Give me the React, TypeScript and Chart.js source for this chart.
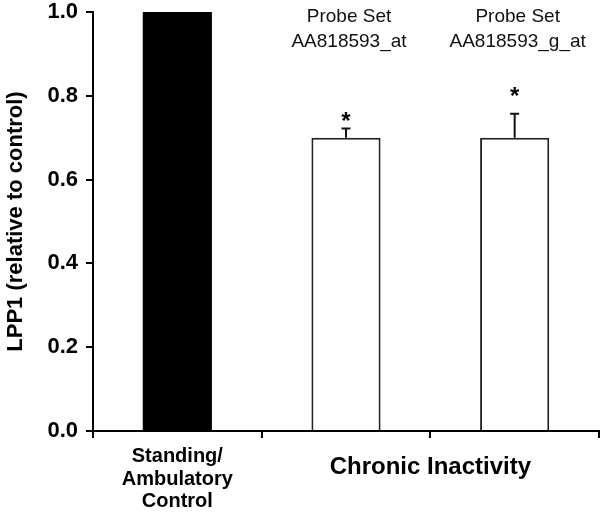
import { useEffect, useRef } from 'react';
import { Chart, registerables } from 'chart.js';

Chart.register(...registerables);

const categories = ['Standing/Ambulatory Control', 'AA818593_at', 'AA818593_g_at'];
const values = [1.0, 0.7, 0.7];
const errorsUp = [0, 0.022, 0.057];
const starValues: (number | null)[] = [null, 0.755, 0.815];
const barColors = ['#000000', '#ffffff', '#ffffff'];
const barBorders = [0, 2, 2];
const probeLabelLines: string[][] = [[], ['Probe Set', 'AA818593_at'], ['Probe Set', 'AA818593_g_at']];
const controlLabelLines = ['Standing/', 'Ambulatory', 'Control'];
const groupLabel = 'Chronic Inactivity';
const yTitle = 'LPP1 (relative to control)';
const yMin = 0;
const yMax = 1.0;
const yStep = 0.2;

const FONT = '"Liberation Sans", Arial, Helvetica, sans-serif';

const overlayPlugin = {
  id: 'overlay',
  afterDatasetsDraw(chart: any) {
    const ctx = chart.ctx as CanvasRenderingContext2D;
    const xs = chart.scales.x;
    const ys = chart.scales.y;
    const area = chart.chartArea;
    ctx.save();
    // error bars
    ctx.strokeStyle = '#111';
    ctx.lineWidth = 2;
    values.forEach((v, i) => {
      const e = errorsUp[i];
      if (!e) return;
      const x = xs.getPixelForValue(i);
      const y0 = ys.getPixelForValue(v);
      const y1 = ys.getPixelForValue(v + e);
      ctx.beginPath();
      ctx.moveTo(x, y0);
      ctx.lineTo(x, y1);
      ctx.moveTo(x - 4.5, y1);
      ctx.lineTo(x + 4.5, y1);
      ctx.stroke();
    });
    // stars
    ctx.fillStyle = '#000';
    ctx.font = `bold 24px ${FONT}`;
    ctx.textAlign = 'center';
    ctx.textBaseline = 'alphabetic';
    starValues.forEach((s, i) => {
      if (s == null) return;
      const x = xs.getPixelForValue(i);
      const y = ys.getPixelForValue(s);
      ctx.fillText('*', x, y + 14);
    });
    // probe labels
    ctx.font = `19px ${FONT}`;
    ctx.fillStyle = '#111';
    probeLabelLines.forEach((lines, i) => {
      const x = xs.getPixelForValue(i) + 3;
      lines.forEach((t, j) => {
        ctx.fillText(t, x, area.top + 10 + j * 25);
      });
    });
    // x labels
    ctx.fillStyle = '#000';
    ctx.font = `bold 20px ${FONT}`;
    const cx = xs.getPixelForValue(0);
    controlLabelLines.forEach((t, j) => {
      ctx.fillText(t, cx, area.bottom + 31 + j * 22.5);
    });
    ctx.font = `bold 24px ${FONT}`;
    const gx = (xs.getPixelForValue(1) + xs.getPixelForValue(2)) / 2;
    ctx.fillText(groupLabel, gx, area.bottom + 43);
    ctx.restore();
  },
};

export default function App() {
  const ref = useRef<HTMLCanvasElement | null>(null);
  useEffect(() => {
    if (!ref.current) return;
    const chart = new Chart(ref.current, {
      type: 'bar',
      data: {
        labels: categories,
        datasets: [
          {
            data: values,
            backgroundColor: barColors,
            borderColor: '#222',
            borderWidth: barBorders,
            barPercentage: 0.41,
            categoryPercentage: 1,
          },
        ],
      },
      options: {
        animation: false,
        responsive: false,
        layout: { padding: { top: 12, right: 1, left: 0, bottom: 0 } },
        plugins: { legend: { display: false }, tooltip: { enabled: false } },
        scales: {
          x: {
            type: 'category',
            offset: true,
            grid: {
              offset: true,
              drawOnChartArea: false,
              drawTicks: true,
              tickLength: 7,
              color: '#000',
              lineWidth: 2,
            },
            border: { display: true, color: '#000', width: 2 },
            ticks: { display: false },
            afterFit: (s: any) => {
              s.height = 86;
              s.paddingLeft = 0;
              s.paddingRight = 0;
            },
          },
          y: {
            min: yMin,
            max: yMax,
            grid: {
              drawOnChartArea: false,
              drawTicks: true,
              tickLength: 7,
              color: '#000',
              lineWidth: 2,
            },
            border: { display: true, color: '#000', width: 2 },
            ticks: {
              stepSize: yStep,
              padding: 8,
              color: '#000',
              font: { family: FONT, size: 22, weight: 'bold', lineHeight: 1 },
              callback: (v: any) => Number(v).toFixed(1),
            },
            title: {
              display: true,
              text: yTitle,
              color: '#000',
              font: { family: FONT, size: 22, weight: 'bold', lineHeight: 1.2 },
              padding: { top: 3, bottom: 0 },
            },
            afterFit: (s: any) => {
              s.width = 93;
              s.paddingTop = 0;
              s.paddingBottom = 0;
            },
          },
        },
      },
      plugins: [overlayPlugin],
    });
    return () => chart.destroy();
  }, []);
  return (
    <div style={{ position: 'absolute', left: 0, top: 0, width: 600, height: 517, background: '#fff' }}>
      <canvas ref={ref} width={600} height={517} />
    </div>
  );
}
